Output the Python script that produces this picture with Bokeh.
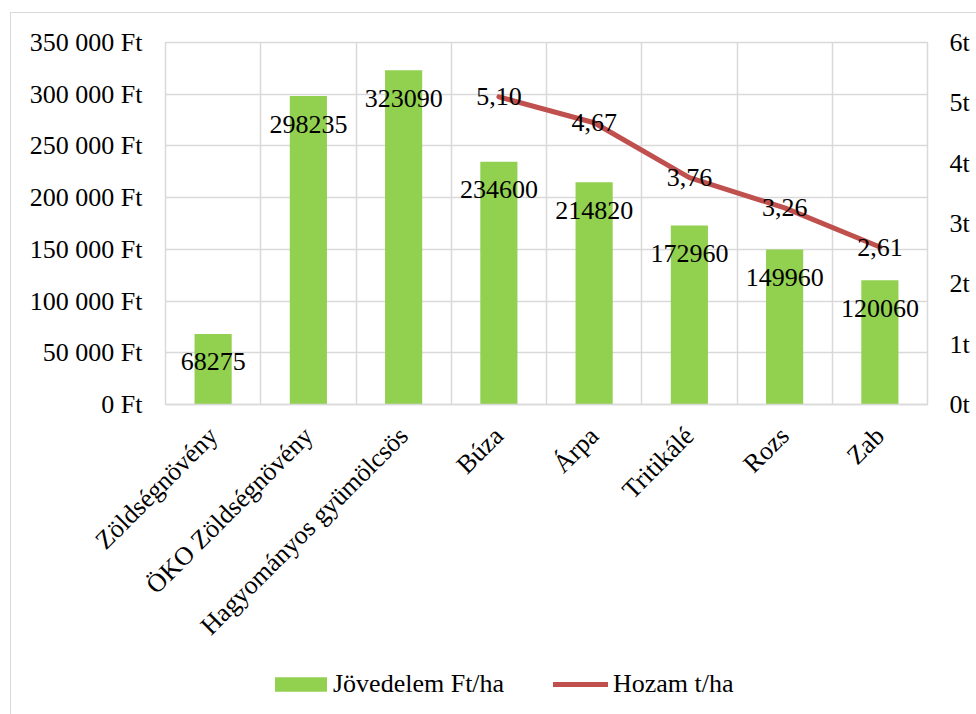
import math
from bokeh.plotting import figure
from bokeh.layouts import column
from bokeh.models import Range1d, LinearAxis, FixedTicker, Legend, LegendItem
from bokeh.core.properties import value
from bokeh.embed import file_html
from bokeh.resources import INLINE

categories = ["Zöldségnövény", "ÖKO Zöldségnövény", "Hagyományos gyümölcsös",
              "Búza", "Árpa", "Tritikálé", "Rozs", "Zab"]
income = [68275, 298235, 323090, 234600, 214820, 172960, 149960, 120060]
yield_cats = ["Búza", "Árpa", "Tritikálé", "Rozs", "Zab"]
yield_t = [5.10, 4.67, 3.76, 3.26, 2.61]
left_ticks = [0, 50000, 100000, 150000, 200000, 250000, 300000, 350000]
right_ticks = [0, 1, 2, 3, 4, 5, 6]
series_names = ["Jövedelem Ft/ha", "Hozam t/ha"]

FONT = "Liberation Serif"
FS = "26px"
GRID = "#d9d9d9"
BAR = "#92D050"
LINE = "#C0504D"

n = len(categories)
xs = [i + 0.5 for i in range(n)]
yxs = [categories.index(c) + 0.5 for c in yield_cats]

p = figure(width=965, height=640, x_range=Range1d(0, n),
           y_range=Range1d(left_ticks[0], left_ticks[-1]),
           output_backend="svg", toolbar_location=None,
           min_border_left=154, min_border_right=49,
           min_border_top=29, min_border_bottom=249)
p.outline_line_color = GRID
p.outline_line_width = 1.5
p.background_fill_color = "white"
p.border_fill_color = "white"

p.extra_y_ranges = {"t": Range1d(right_ticks[0], right_ticks[-1])}

# grids
p.xgrid.ticker = FixedTicker(ticks=list(range(n + 1)))
p.ygrid.ticker = FixedTicker(ticks=left_ticks)
for g in (p.xgrid, p.ygrid):
    g.grid_line_color = GRID
    g.grid_line_width = 1.5

# x axis
xa = p.xaxis[0]
xa.ticker = FixedTicker(ticks=xs)
xa.major_label_overrides = {x: c for x, c in zip(xs, categories)}
xa.major_label_orientation = math.pi / 4
xa.major_label_standoff = 21
xa.major_tick_line_color = None
xa.minor_tick_line_color = None
xa.axis_line_color = GRID
xa.axis_line_width = 1.5
xa.major_label_text_font = FONT
xa.major_label_text_font_size = FS
xa.major_label_text_color = "black"

# left axis
ya = p.yaxis[0]
ya.ticker = FixedTicker(ticks=left_ticks)
ya.major_label_overrides = {v: f"{v:,}".replace(",", " ") + " Ft" for v in left_ticks}
ya.axis_line_color = None
ya.major_tick_line_color = None
ya.minor_tick_line_color = None
ya.major_tick_out = 0
ya.minor_tick_out = 0
ya.major_label_standoff = 23
ya.major_label_text_font = FONT
ya.major_label_text_font_size = FS
ya.major_label_text_color = "black"

# right axis
ra = LinearAxis(y_range_name="t", ticker=FixedTicker(ticks=right_ticks))
ra.major_label_overrides = {v: f"{v}t" for v in right_ticks}
ra.axis_line_color = None
ra.major_tick_line_color = None
ra.minor_tick_line_color = None
ra.major_tick_out = 0
ra.minor_tick_out = 0
ra.major_label_standoff = 22
ra.major_label_text_font = FONT
ra.major_label_text_font_size = FS
ra.major_label_text_color = "black"
p.add_layout(ra, "right")

p.vbar(x=xs, top=income, width=0.39, fill_color=BAR, line_color=None)
p.line(yxs, yield_t, y_range_name="t", line_color=LINE, line_width=5,
       line_cap="round", line_join="round")

p.text(x=xs, y=income, text=[str(v) for v in income], text_align="center",
       text_baseline="middle", y_offset=28, text_font=value(FONT),
       text_font_size=FS, text_color="black")
p.text(x=yxs, y=yield_t, text=[f"{v:.2f}".replace(".", ",") for v in yield_t],
       y_range_name="t", text_align="center", text_baseline="middle",
       text_font=value(FONT), text_font_size=FS, text_color="black")

# legend strip: a separate figure (its frame is aligned with the chart's frame)
# that carries the same series, hidden, so that the legend is not clipped.
lf = figure(width=965, height=61, x_range=Range1d(0, n), y_range=Range1d(-2, -1),
            output_backend="svg", toolbar_location=None,
            min_border_left=154, min_border_right=49,
            min_border_top=0, min_border_bottom=0)
lf.axis.visible = False
lf.grid.visible = False
lf.outline_line_color = None
lf.background_fill_color = "white"
lf.border_fill_color = "white"
lbar = lf.vbar(x=xs, top=income, width=0.39, fill_color=BAR, line_color=None)
lline = lf.line(yxs, yield_t, line_color=LINE, line_width=5, line_cap="round")
lbar.visible = False
lline.visible = False

def mk_legend(label, rend, loc, gw, gh, standoff):
    return Legend(items=[LegendItem(label=label, renderers=[rend])], location=loc,
                  orientation="horizontal", glyph_width=gw, glyph_height=gh,
                  label_standoff=standoff, padding=0, margin=0,
                  border_line_color=None, background_fill_alpha=0,
                  label_text_font=FONT, label_text_font_size=FS,
                  label_text_color="black", click_policy="none")

lf.add_layout(mk_legend(series_names[0], lbar, (103, 15), 65, 18, 0))
lf.add_layout(mk_legend(series_names[1], lline, (388, 15), 55, 18, 5))

layout = column(p, lf, spacing=0,
                styles={"margin-left": "10px", "margin-top": "12px",
                        "border-left": "1px solid #d9d9d9",
                        "border-top": "1px solid #d9d9d9"})

open("out.html", "w").write(file_html(layout, INLINE))
